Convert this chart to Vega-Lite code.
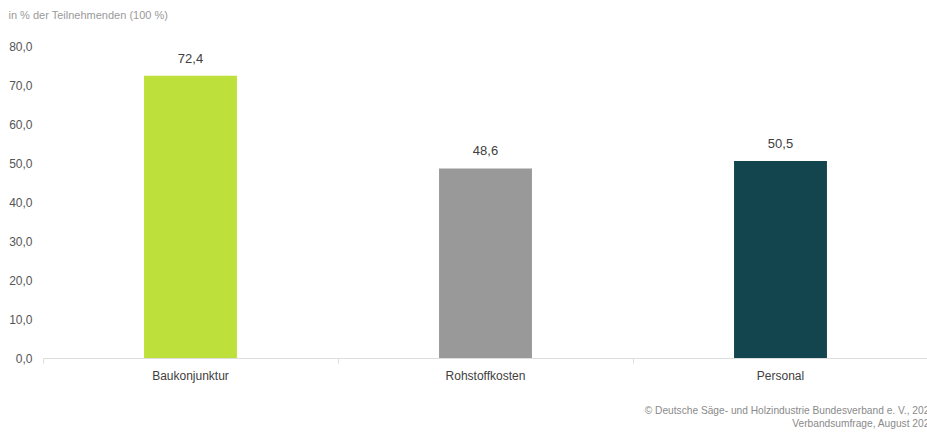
{
  "$schema": "https://vega.github.io/schema/vega-lite/v6.json",
  "autosize": {"type": "none"},
  "width": 885,
  "height": 312,
  "padding": {"left": 43, "top": 46, "right": 0, "bottom": 74},
  "background": "white",
  "config": {
    "view": {"stroke": null},
    "font": "Liberation Sans",
    "locale": {"number": {"decimal": ",", "thousands": ".", "grouping": [3], "currency": ["", " €"]}}
  },
  "title": {
    "text": ["© Deutsche Säge- und Holzindustrie Bundesverband e. V., 2024", "Verbandsumfrage, August 2024"],
    "orient": "bottom",
    "anchor": "end",
    "frame": "group",
    "align": "right",
    "dx": 7,
    "offset": 25,
    "fontSize": 10.2,
    "fontWeight": "normal",
    "color": "#8a8a8a",
    "lineHeight": 13
  },
  "data": {
    "values": [
      {"kategorie": "Baukonjunktur", "wert": 72.4},
      {"kategorie": "Rohstoffkosten", "wert": 48.6},
      {"kategorie": "Personal", "wert": 50.5}
    ]
  },
  "encoding": {
    "x": {
      "field": "kategorie",
      "type": "nominal",
      "sort": null,
      "scale": {"paddingInner": 0, "paddingOuter": 0},
      "axis": {
        "title": null,
        "labelAngle": 0,
        "labelFontSize": 12,
        "labelColor": "#404040",
        "labelPadding": 7,
        "domainColor": "#dddddd",
        "tickColor": "#dddddd",
        "tickSize": 5,
        "bandPosition": 0
      }
    },
    "y": {
      "field": "wert",
      "type": "quantitative",
      "scale": {"domain": [0, 80], "nice": false},
      "axis": {
        "title": "in % der Teilnehmenden (100 %)",
        "titleAngle": 0,
        "titleAlign": "left",
        "titleBaseline": "alphabetic",
        "titleX": -35,
        "titleY": -28,
        "titleFontSize": 11,
        "titleFontWeight": "normal",
        "titleColor": "#9a9a9a",
        "values": [0, 10, 20, 30, 40, 50, 60, 70, 80],
        "format": ".1f",
        "grid": false,
        "domain": false,
        "ticks": false,
        "labelPadding": 11,
        "labelFontSize": 12,
        "labelColor": "#555555"
      }
    }
  },
  "layer": [
    {
      "mark": {"type": "bar", "width": {"band": 0.315}},
      "encoding": {
        "color": {
          "field": "kategorie",
          "type": "nominal",
          "scale": {"domain": ["Baukonjunktur", "Rohstoffkosten", "Personal"], "range": ["#bee03a", "#999999", "#13454f"]},
          "legend": null
        }
      }
    },
    {
      "mark": {"type": "text", "dy": -10, "baseline": "bottom", "fontSize": 13, "color": "#404040"},
      "encoding": {
        "text": {"field": "wert", "type": "quantitative", "format": ".1f"}
      }
    }
  ]
}
